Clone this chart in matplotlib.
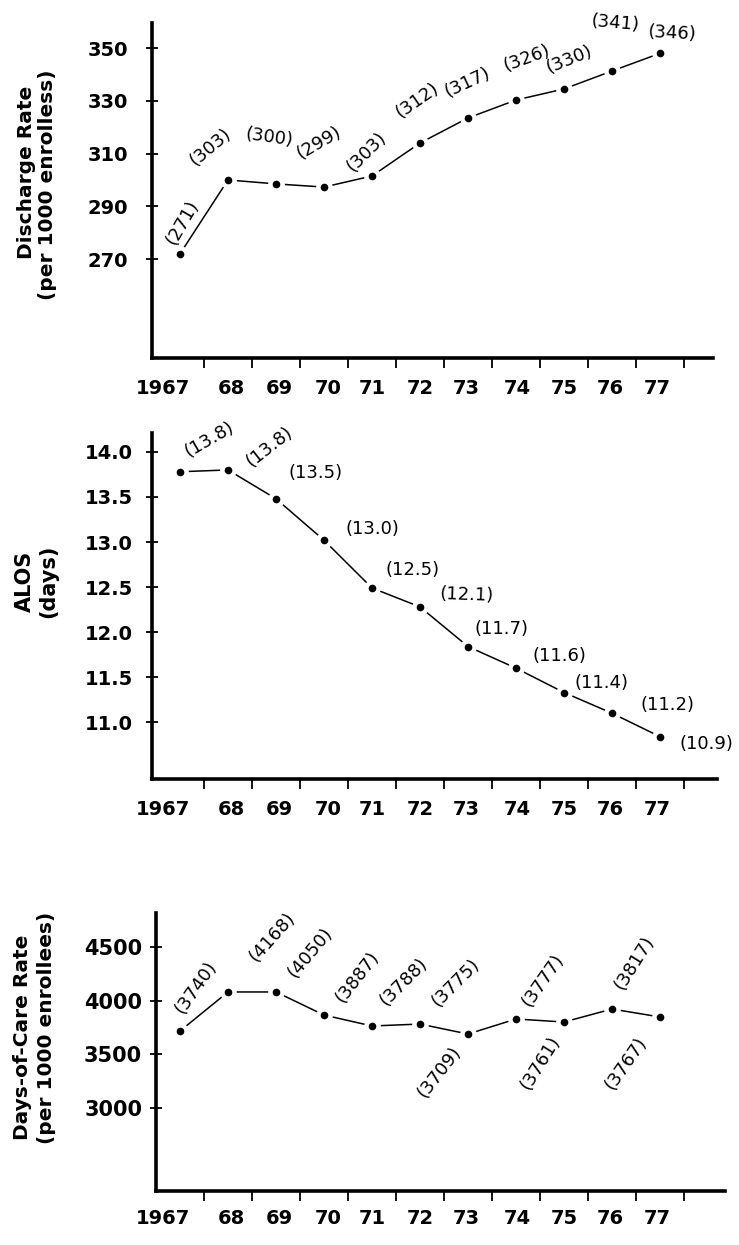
import numpy as np
import matplotlib
matplotlib.use("Agg")
import matplotlib.pyplot as plt

# ---------------- data ----------------
years = ['1967', '68', '69', '70', '71', '72', '73', '74', '75', '76', '77']

# printed figures next to each point
discharge_txt = [271, 303, 300, 299, 303, 312, 317, 326, 330, 341, 346]
alos_txt = [13.8, 13.8, 13.5, 13.0, 12.5, 12.1, 11.7, 11.6, 11.4, 11.2, 10.9]
care_txt = [3740, 4168, 4050, 3887, 3788, 3775, 3709, 3777, 3761, 3817, 3767]

# point heights as drawn on the chart
discharge = [272, 300, 298.5, 297.3, 301.5, 314, 323.5, 330.3, 334.5, 341.3, 348]
alos = [13.78, 13.80, 13.48, 13.02, 12.49, 12.28, 11.84, 11.60, 11.33, 11.10, 10.84]
care = [3717, 4081, 4081, 3866, 3764, 3782, 3689, 3829, 3801, 3922, 3848]

discharge_ticks = [270, 290, 310, 330, 350]
alos_ticks = [11.0, 11.5, 12.0, 12.5, 13.0, 13.5, 14.0]
care_ticks = [3000, 3500, 4000, 4500]

# ---------------- layout ----------------
W, H = 739, 1245
fig = plt.figure(figsize=(W / 100., H / 100.), dpi=100)

xs = np.arange(len(years))
year_pos = [-0.35, 1.06, 2.06, 3.08, 4.0, 5.0, 5.96, 7.02, 8.0, 8.96, 9.94]

# label offsets in pixels (dx, dy) and rotation
off1 = [(3, 31), (-18, 33), (-7, 46), (-5, 44), (-5, 24), (-3, 43), (-1, 36),
        (11, 42), (5, 29), (3, 48), (12, 20)]
rot1 = [60, 40, -8, 30, 45, 35, 25, 20, 22, -5, -3]
off2 = [(29, 32), (41, 23), (40, 26), (48, 11), (41, 18), (47, 12), (34, 18),
        (43, 12), (37, 9), (55, 8), (46, -7)]
rot2 = [30, 38, 0, 0, 0, -2, 0, 0, 0, 0, 0]
off3 = [(16, 44), (44, 55), (34, 39), (33, 38), (32, 44), (36, 41), (-29, -38),
        (27, 39), (-24, -41), (22, 46), (-34, -46)]
rot3 = [55, 48, 50, 52, 45, 45, 52, 55, 58, 58, 55]


def make_axes(l, r, t, b):
    ax = fig.add_axes([l / W, 1 - b / H, (r - l) / W, (b - t) / H])
    ax.set_xlim((l - 180) / 48., (r - 180) / 48.)
    for s in ['top', 'right']:
        ax.spines[s].set_visible(False)
    for s in ['left', 'bottom']:
        ax.spines[s].set_linewidth(2.6)
    return ax


def draw_panel(ax, vals, txt, fmt, offs, rots, yticks, ypad, xpad, yfs=14):
    ax.plot(xs, vals, '-', color='black', lw=1.1, zorder=2)
    ax.plot(xs, vals, 'o', color='white', ms=11, mec='white', zorder=3)
    ax.plot(xs, vals, 'o', color='black', ms=4.5, zorder=4)
    for i in range(len(xs)):
        ax.annotate(fmt % txt[i], (xs[i], vals[i]), xytext=offs[i],
                    textcoords='offset pixels', ha='center', va='center',
                    rotation=rots[i], fontsize=13, color='black', zorder=5)
    ax.set_yticks(yticks)
    ax.set_yticklabels([('%.1f' % v) if isinstance(v, float) else str(v) for v in yticks],
                       fontsize=yfs, fontweight='bold')
    ax.tick_params(axis='y', direction='inout', length=8.6, width=1.3, pad=ypad)
    ax.set_xticks(xs + 0.5)
    ax.set_xticklabels([])
    ax.tick_params(axis='x', which='major', direction='out', length=7, width=1.3)
    ax.set_xticks(year_pos, minor=True)
    ax.set_xticklabels(years, minor=True, fontsize=14, fontweight='bold')
    ax.tick_params(axis='x', which='minor', length=0, pad=xpad)


# --- Discharge rate
ax1 = make_axes(152, 713, 23, 358)
ax1.set_ylim(232.5, 359.5)
draw_panel(ax1, discharge, discharge_txt, '(%d)', off1, rot1, discharge_ticks, 13, 15)
fig.text(27 / W, 1 - 172 / H, 'Discharge Rate', rotation=90, ha='center', va='center',
         fontsize=14.5, fontweight='bold')
fig.text(48 / W, 1 - 185 / H, '(per 1000 enrolless)', rotation=90, ha='center',
         va='center', fontsize=14.5, fontweight='bold')

# --- ALOS
ax2 = make_axes(152, 717, 433, 779)
ax2.set_ylim(10.37, 14.21)
draw_panel(ax2, alos, alos_txt, '(%.1f)', off2, rot2, alos_ticks, 9.4, 15)
fig.text(25 / W, 1 - 581 / H, 'ALOS', rotation=90, ha='center', va='center',
         fontsize=15, fontweight='bold')
fig.text(48 / W, 1 - 581 / H, '(days)', rotation=90, ha='center', va='center',
         fontsize=15, fontweight='bold')

# --- Days-of-care rate
ax3 = make_axes(156, 725, 913, 1191)
ax3.set_ylim(2226, 4817)
draw_panel(ax3, care, care_txt, '(%d)', off3, rot3, care_ticks, 5.7, 13, yfs=15)
fig.text(23 / W, 1 - 1037 / H, 'Days-of-Care Rate', rotation=90, ha='center',
         va='center', fontsize=14.5, fontweight='bold')
fig.text(47 / W, 1 - 1028 / H, '(per 1000 enrollees)', rotation=90, ha='center',
         va='center', fontsize=14.5, fontweight='bold')

plt.savefig('out.png', dpi=100)
